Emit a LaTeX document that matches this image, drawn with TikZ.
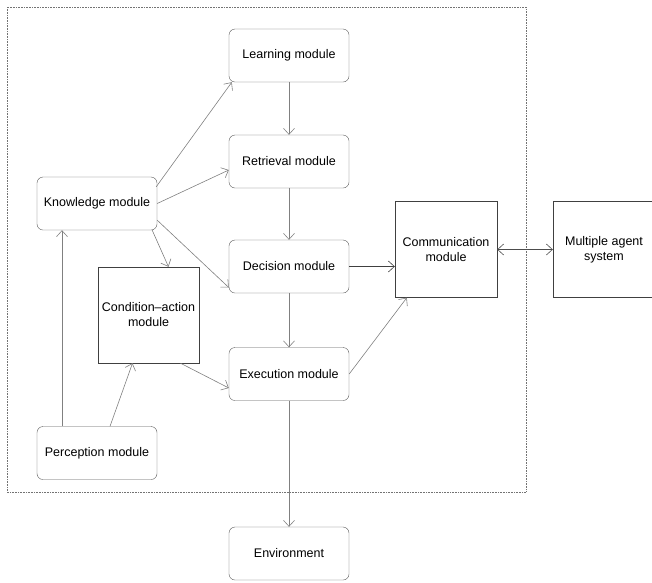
\documentclass[tikz,border=0pt]{standalone}
\usepackage{fontspec}
\setmainfont{Liberation Sans}
\usetikzlibrary{arrows.meta}
\begin{document}
\begin{tikzpicture}[x=1pt,y=-1pt,
  font=\fontsize{12.5}{15}\selectfont,
  module/.style={draw=black!65, rounded corners=6pt, minimum width=120pt, minimum height=53pt, inner sep=0pt, align=center},
  squarebox/.style={draw=black!75, minimum width=102pt, minimum height=96pt, inner sep=0pt, align=center},
  link/.style={draw=black!50, line width=0.6pt, -{Straight Barb[length=6pt,width=11pt,line width=0.6pt]}},
  dlink/.style={draw=black!70, line width=0.6pt, {Straight Barb[length=6pt,width=11pt,line width=0.6pt]}-{Straight Barb[length=6pt,width=11pt,line width=0.6pt]}}]
\useasboundingbox (0,0) rectangle (652,582);
% agent boundary
\draw[black!55, densely dotted, line width=0.6pt] (7,7) rectangle (526,492);
% modules
\node[module] (learn) at (289,55.5) {Learning module};
\node[module] (retr) at (289,161.5) {Retrieval module};
\node[module] (dec) at (289,266.5) {Decision module};
\node[module] (exec) at (289,374) {Execution module};
\node[module] (env) at (289,553.5) {Environment};
\node[module] (know) at (97,203.5) {Knowledge module};
\node[module] (perc) at (97,453) {Perception module};
\node[squarebox, minimum width=101pt] (cond) at (148.5,315) {Condition–action\\module};
\node[squarebox] (comm) at (446,249.5) {Communication\\module};
\node[squarebox] (mas) at (604,249.5) {Multiple agent\\system};
% connectors
\draw[link] ([xshift=-1pt,yshift=-10pt]know.north east) -- ([xshift=3pt]learn.south west);
\draw[link] (know.east) -- ([yshift=-8.5pt]retr.west);
\draw[link] ([yshift=10pt]know.south east) -- ([yshift=-21pt]dec.west);
\draw[link] ([xshift=-5pt]know.south east) -- ([xshift=20pt]cond.north);
\draw[link] (learn) -- (retr);
\draw[link] (retr) -- (dec);
\draw[link] (dec) -- (exec);
\draw[link] (exec) -- (env);
\draw[link, draw=black!75] (dec.east) -- (dec.east -| comm.west);
\draw[link] (exec.east) -- ([xshift=12pt]comm.south west);
\draw[link] ([xshift=32pt]cond.south) -- ([yshift=-14pt]exec.west);
\draw[link] ([xshift=13pt]perc.north) -- ([xshift=-16pt]cond.south);
\draw[link] ([xshift=-35pt]perc.north) -- ([xshift=-35pt]know.south);
\draw[dlink] (comm.east) -- (mas.west);
\end{tikzpicture}
\end{document}
